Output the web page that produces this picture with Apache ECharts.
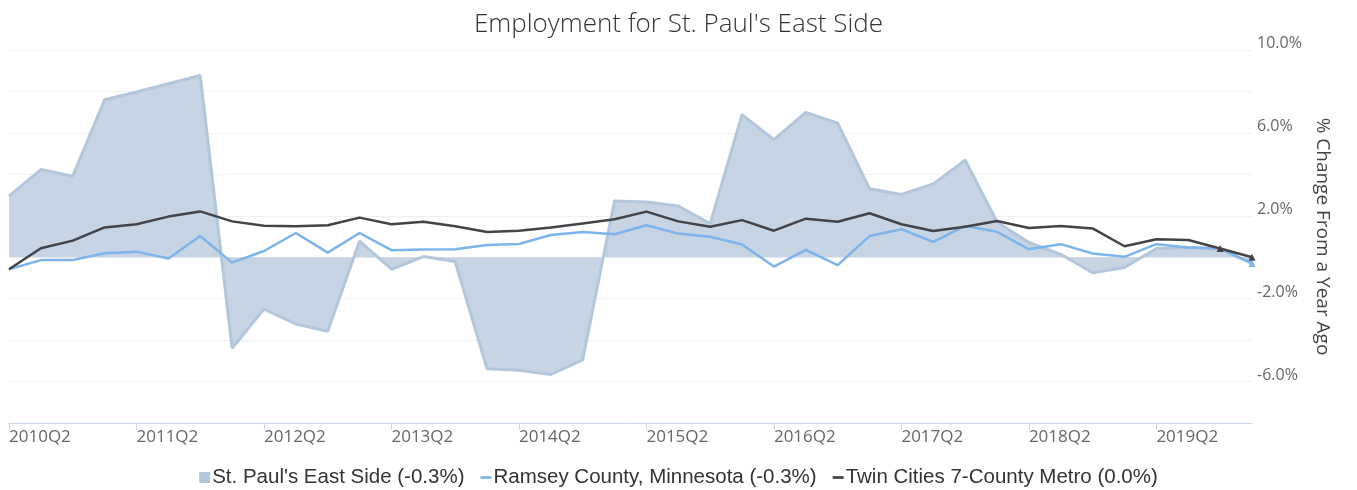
<!DOCTYPE html>
<html>
<head>
<meta charset="utf-8">
<script src="https://cdn.jsdelivr.net/npm/echarts@6/dist/echarts.min.js"></script>
<style>
html,body{margin:0;padding:0;background:#fff;}
#chart{width:1357px;height:490px;}
</style>
</head>
<body>
<div id="chart"></div>
<script>
const categories = [
  '2010Q2','2010Q3','2010Q4','2011Q1','2011Q2','2011Q3','2011Q4','2012Q1',
  '2012Q2','2012Q3','2012Q4','2013Q1','2013Q2','2013Q3','2013Q4','2014Q1',
  '2014Q2','2014Q3','2014Q4','2015Q1','2015Q2','2015Q3','2015Q4','2016Q1',
  '2016Q2','2016Q3','2016Q4','2017Q1','2017Q2','2017Q3','2017Q4','2018Q1',
  '2018Q2','2018Q3','2018Q4','2019Q1','2019Q2','2019Q3','2019Q4','2020Q1'
];
const eastSide = [
  2.95, 4.23, 3.91, 7.60, 7.97, 8.37, 8.77, -4.39,
  -2.50, -3.22, -3.57, 0.78, -0.58, 0.03, -0.21, -5.38,
  -5.45, -5.66, -4.95, 2.71, 2.66, 2.47, 1.62, 6.88,
  5.67, 6.99, 6.47, 3.30, 3.03, 3.54, 4.68, 1.70,
  0.71, 0.14, -0.75, -0.50, 0.42, 0.47, 0.38, -0.30
];
const ramsey = [
  -0.58, -0.14, -0.13, 0.19, 0.27, -0.06, 1.02, -0.26,
  0.30, 1.17, 0.22, 1.17, 0.34, 0.37, 0.39, 0.59,
  0.64, 1.07, 1.22, 1.11, 1.54, 1.14, 0.99, 0.61,
  -0.45, 0.35, -0.38, 1.02, 1.35, 0.74, 1.51, 1.23,
  0.38, 0.63, 0.18, 0.02, 0.63, 0.47, 0.43, -0.30
];
const twinCities = [
  -0.58, 0.43, 0.80, 1.44, 1.59, 1.96, 2.21, 1.73,
  1.52, 1.49, 1.54, 1.91, 1.59, 1.71, 1.49, 1.22,
  1.28, 1.43, 1.63, 1.83, 2.20, 1.73, 1.47, 1.79,
  1.28, 1.86, 1.71, 2.12, 1.59, 1.27, 1.47, 1.75,
  1.41, 1.51, 1.39, 0.53, 0.87, 0.83, 0.42, 0.00
];
const seriesNames = [
  "St. Paul's East Side (-0.3%)",
  'Ramsey County, Minnesota (-0.3%)',
  'Twin Cities 7-County Metro (0.0%)'
];
const yTickLabels = ['-6.0%', '-2.0%', '2.0%', '6.0%', '10.0%'];

const chart = echarts.init(document.getElementById('chart'), null, {renderer: 'canvas'});
const lastN = (n) => (v, p) => (p.dataIndex >= categories.length - n ? 7 : 0);

chart.setOption({
  animation: false,
  backgroundColor: '#ffffff',
  title: {
    text: "Employment for St. Paul's East Side",
    left: 'center',
    top: 12,
    padding: 0,
    textStyle: {fontFamily: 'Open Sans', fontWeight: 300, fontSize: 26, color: '#333333'}
  },
  legend: {
    bottom: 2,
    left: 'center',
    padding: 0,
    itemWidth: 11,
    itemHeight: 11,
    itemGap: 16,
    textStyle: {fontFamily: 'Liberation Sans, Arial', fontSize: 20.5, color: '#333333', padding: [0, 0, 0, -3]},
    data: [
      {name: seriesNames[0], icon: 'path://M0,0H10V10H0Z', itemStyle: {color: '#b3c6dc'}},
      {name: seriesNames[1], icon: 'path://M0,0H10V2.5H0Z'},
      {name: seriesNames[2], icon: 'path://M0,0H10V2.5H0Z'}
    ]
  },
  grid: {left: 9, right: 105, top: 50, bottom: 67, containLabel: false},
  xAxis: {
    type: 'category',
    data: categories,
    boundaryGap: false,
    axisLine: {onZero: false, lineStyle: {color: '#ccd6eb', width: 1}},
    axisTick: {interval: 3, length: 7, lineStyle: {color: '#ccd6eb'}},
    axisLabel: {
      interval: 3, align: 'left', margin: 6,
      fontFamily: 'Open Sans', fontSize: 17, color: '#666666'
    },
    splitLine: {show: false}
  },
  yAxis: {
    type: 'value',
    position: 'right',
    min: -8, max: 10, interval: 2,
    name: '% Change From a Year Ago',
    nameLocation: 'middle',
    nameRotate: -90,
    nameGap: 61,
    nameTextStyle: {fontFamily: 'Open Sans', fontSize: 19, color: '#444444'},
    axisLine: {show: false},
    axisTick: {show: false},
    axisLabel: {
      margin: 5,
      verticalAlign: 'bottom',
      lineHeight: 13,
      fontFamily: 'Open Sans', fontSize: 16, color: '#666666',
      formatter: function (v) {
        const s = v.toFixed(1) + '%';
        return yTickLabels.indexOf(s) >= 0 ? s : '';
      }
    },
    splitLine: {lineStyle: {color: '#f0f0f0', width: 1}}
  },
  series: [
    {
      name: seriesNames[0],
      type: 'line',
      data: eastSide,
      showSymbol: false,
      symbol: 'none',
      lineStyle: {color: '#b3c6dc', width: 3},
      itemStyle: {color: '#b3c6dc'},
      areaStyle: {color: '#c6d4e3', opacity: 1, origin: 0},
      z: 1
    },
    {
      name: seriesNames[1],
      type: 'line',
      data: ramsey,
      symbol: 'triangle',
      symbolSize: lastN(1),
      showSymbol: true,
      lineStyle: {color: '#7cb5ec', width: 2.5},
      itemStyle: {color: '#7cb5ec'},
      z: 2
    },
    {
      name: seriesNames[2],
      type: 'line',
      data: twinCities,
      symbol: 'triangle',
      symbolSize: lastN(2),
      showSymbol: true,
      lineStyle: {color: '#434348', width: 2.5},
      itemStyle: {color: '#434348'},
      z: 3
    }
  ]
});
</script>
</body>
</html>
